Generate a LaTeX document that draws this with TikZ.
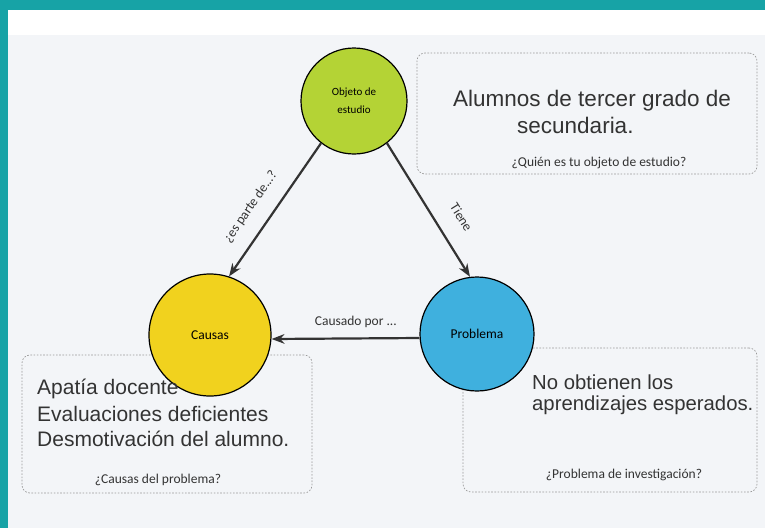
\documentclass[tikz,border=0pt]{standalone}
\usepackage{fontspec}
\setmainfont{Carlito}
\newfontfamily\handfont{Liberation Sans}
\usetikzlibrary{positioning,arrows.meta}
\definecolor{frameteal}{HTML}{17A3A6}
\definecolor{paper}{HTML}{F3F5F8}
\definecolor{limefill}{HTML}{B4D335}
\definecolor{sunfill}{HTML}{F1D21E}
\definecolor{skyfill}{HTML}{3FB0DE}
\definecolor{ink}{HTML}{333333}
\definecolor{dotgray}{HTML}{9A9A9A}

\begin{document}
\begin{tikzpicture}[x=1pt,y=-1pt,>=Stealth,font=\fontsize{13.5}{16}\selectfont,
  bubble/.style={draw=black,line width=1.2pt,circle,inner sep=0pt,align=center},
  notebox/.style={draw=dotgray,dash pattern=on 1.6pt off 1.6pt,rounded corners=8pt,line width=0.7pt,inner sep=0pt},
  hand/.style={font=\handfont\fontsize{21}{24}\selectfont,text=ink,inner sep=0pt,anchor=west},
  link/.style={->,draw=ink,line width=2.2pt}]
  % paper and frame
  \fill[frameteal] (0,0) rectangle (765,528);
  \fill[white] (8,10) rectangle (765,528);
  \fill[paper] (8,35) rectangle (765,528);
  \useasboundingbox (0,0) rectangle (765,528);

  % dashed note boxes
  \node[notebox,minimum width=340pt,minimum height=121pt] (objbox) at (587,113.5) {};
  \node[notebox,minimum width=290pt,minimum height=138pt] (causbox) at (167,424) {};
  \node[notebox,minimum width=294pt,minimum height=144pt] (probbox) at (610,420) {};

  % circles
  \node[bubble,fill=limefill,minimum size=106pt,font=\fontsize{11}{18}\selectfont] (obj) at (354,101) {Objeto de\\estudio};
  \node[bubble,fill=sunfill,minimum size=122pt] (causas) at (210,335) {Causas};
  \node[bubble,fill=skyfill,minimum size=114pt] (problema) at (477,334) {Problema};

  % arrows
  \draw[link] (obj.-128) -- node[sloped,above=11.5pt,pos=0.57,text=ink] (lblparte) {¿es parte de...?} (causas.72);
  \draw[link] (obj.-52) -- node[sloped,above=15pt,pos=0.65,text=ink] (lbltiene) {Tiene} (problema.97);
  \draw[link] ([yshift=-4pt]problema.west) -- node[above=6pt,pos=0.43,text=ink] (lblcausado) {Causado por ...} ([yshift=-4pt]causas.east);

  % handwritten notes
  \node[hand,font=\handfont\fontsize{22.5}{26}\selectfont] (alumnos) at (453,101) {Alumnos de tercer grado de};
  \node[hand,font=\handfont\fontsize{22.5}{26}\selectfont] (secundaria) at (517,125) {secundaria.};
  \node[text=ink] (quien) at (599,163) {¿Quién es tu objeto de estudio?};

  \node[hand] (apatia) at (37,389) {Apatía docente};
  \node[hand] (evaluaciones) at (37,414) {Evaluaciones deficientes};
  \node[hand] (desmotivacion) at (37,439) {Desmotivación del alumno.};
  \node[text=ink] (causaq) at (158,480) {¿Causas del problema?};

  \node[hand,font=\handfont\fontsize{20.3}{24}\selectfont] (noobtienen) at (532,382) {No obtienen los};
  \node[hand,font=\handfont\fontsize{20.3}{24}\selectfont] (aprendizajes) at (532,405) {aprendizajes esperados.};
  \node[text=ink] (problemaq) at (624,475) {¿Problema de investigación?};
\end{tikzpicture}
\end{document}
